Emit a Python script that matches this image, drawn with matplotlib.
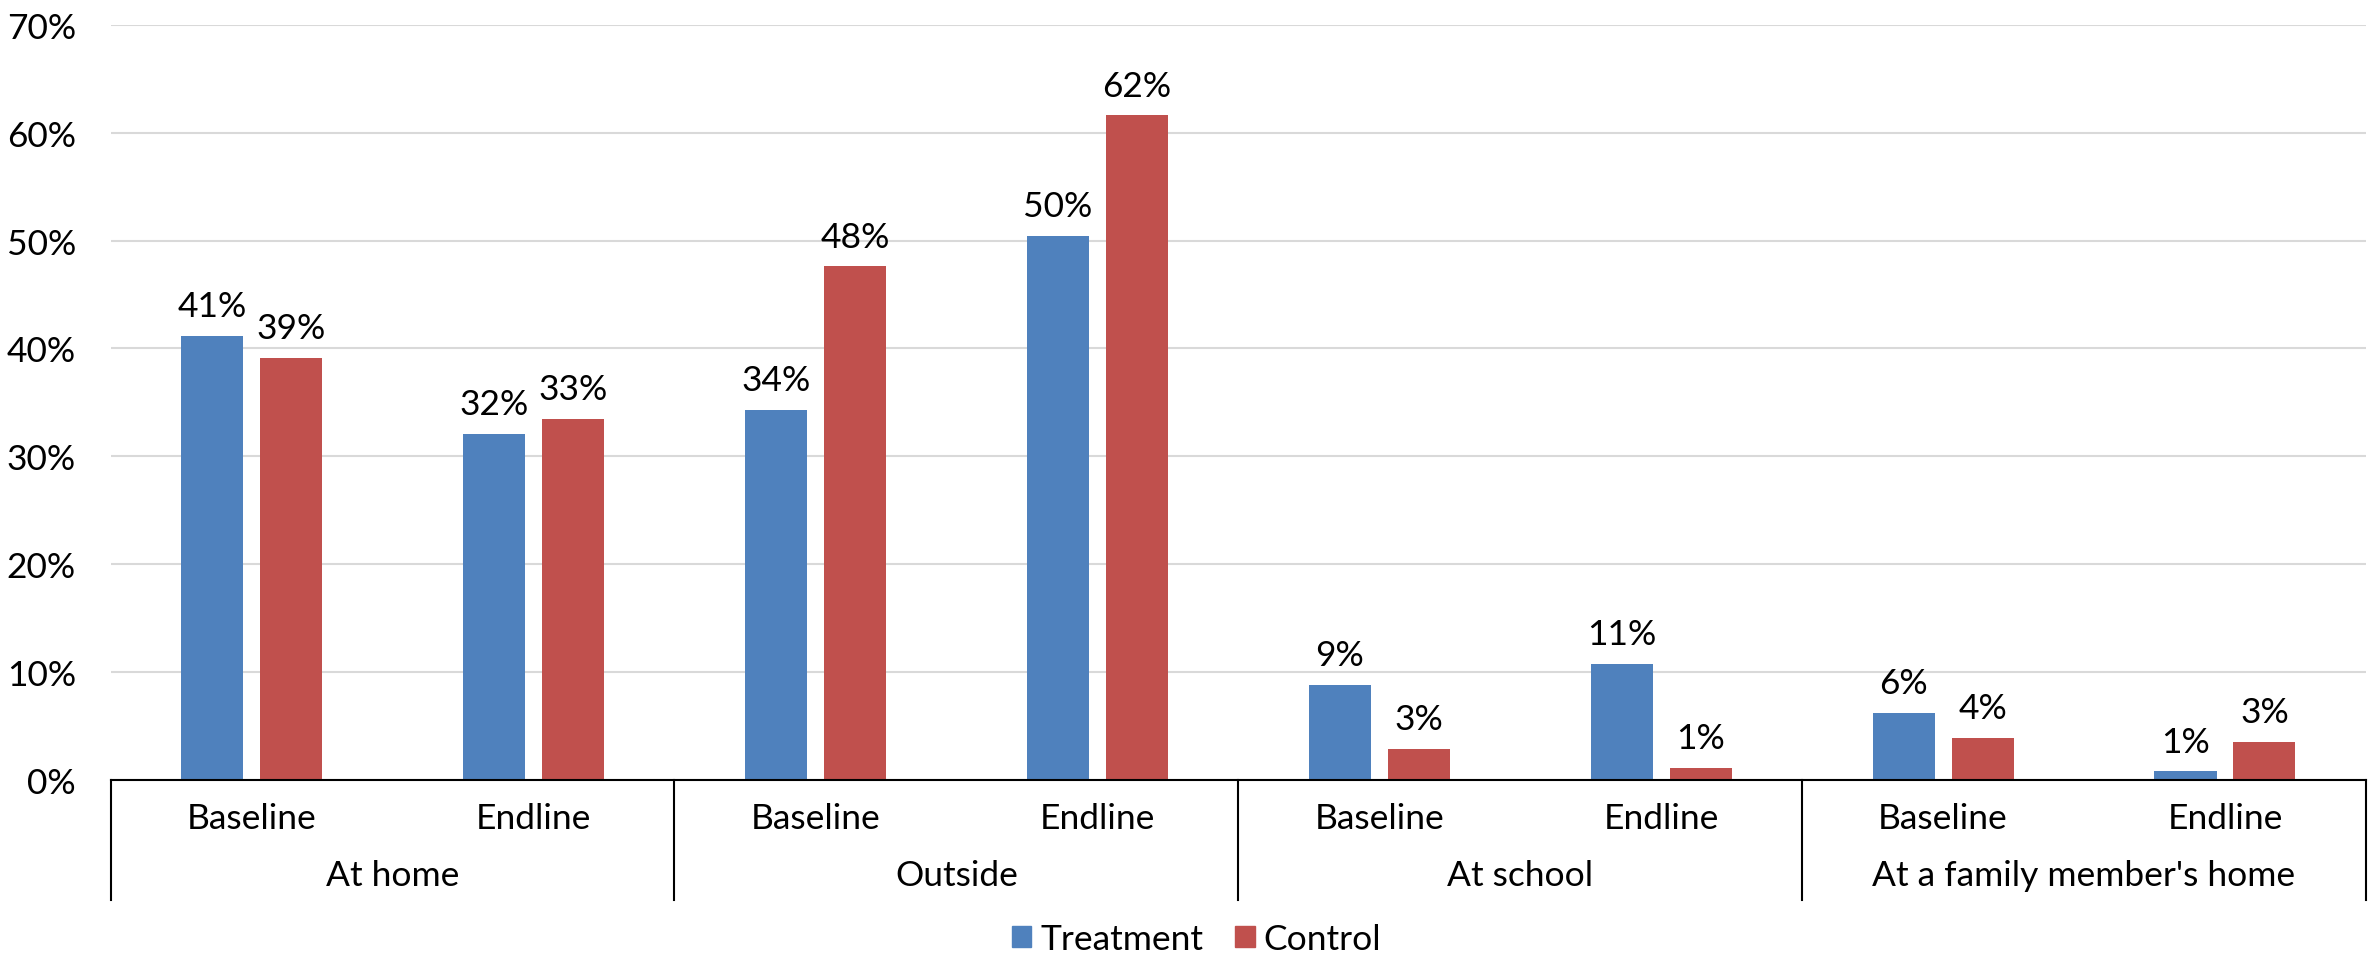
import matplotlib
matplotlib.use("Agg")
import matplotlib.pyplot as plt
from matplotlib.patches import Patch
import matplotlib.transforms as mtransforms
import numpy as np

plt.rcParams['font.family'] = ['Lato', 'DejaVu Sans']

groups = ["At home", "Outside", "At school", "At a family member's home"]
rounds = ["Baseline", "Endline"]
treatment = [41.2, 32.1, 34.3, 50.4, 8.8, 10.8, 6.2, 0.8]
control = [39.1, 33.5, 47.6, 61.6, 2.9, 1.1, 3.9, 3.5]
treatment_labels = ["41%", "32%", "34%", "50%", "9%", "11%", "6%", "1%"]
control_labels = ["39%", "33%", "48%", "62%", "3%", "1%", "4%", "3%"]
yticks = [0, 10, 20, 30, 40, 50, 60, 70]

BLUE = "#4F81BD"
RED = "#C0504D"
FS = 25.5

fig = plt.figure(figsize=(23.74, 9.54), dpi=100)
ax = fig.add_axes([0.0466, 0.1813, 0.95, 0.7917])

x = np.arange(len(treatment))
w = 0.22
off = 0.14
bt = ax.bar(x - off, treatment, w, color=BLUE, zorder=3)
bc = ax.bar(x + off, control, w, color=RED, zorder=3)

for rect, lab in zip(bt, treatment_labels):
    ax.annotate(lab, (rect.get_x() + rect.get_width() / 2, rect.get_height()),
                xytext=(0, 10), textcoords="offset points",
                ha="center", va="bottom", fontsize=FS)
for rect, lab in zip(bc, control_labels):
    ax.annotate(lab, (rect.get_x() + rect.get_width() / 2, rect.get_height()),
                xytext=(0, 10), textcoords="offset points",
                ha="center", va="bottom", fontsize=FS)

ax.set_xlim(-0.5, len(treatment) - 0.5)
ax.set_ylim(0, 70)
ax.set_yticks(yticks)
ax.set_yticklabels([f"{v}%" for v in yticks], fontsize=FS)
ax.tick_params(axis="y", length=0, pad=25)
ax.set_xticks([])
ax.yaxis.grid(True, color="#D9D9D9", linewidth=1.5, zorder=0)
for s in ["left", "right", "top"]:
    ax.spines[s].set_visible(False)
ax.spines["bottom"].set_color("black")
ax.spines["bottom"].set_linewidth(1.5)
ax.spines["bottom"].set_zorder(4)

# Two-level category axis drawn beneath the plot
trans = mtransforms.blended_transform_factory(ax.transData, fig.transFigure)
y_top = 1 - 781 / 954
y_bot = 1 - 901 / 954
y_sub = 1 - 819 / 954
y_grp = 1 - 876 / 954
for b in np.arange(-0.5, len(treatment), 2):
    ax.plot([b, b], [y_top, y_bot], transform=trans, color="black",
            linewidth=1.5, clip_on=False)
for i in x:
    ax.text(i, y_sub, rounds[i % 2], transform=trans, ha="center",
            va="center", fontsize=FS)
for g, name in enumerate(groups):
    ax.text(2 * g + 0.5, y_grp, name, transform=trans, ha="center",
            va="center", fontsize=FS)

handles = [Patch(color=BLUE, label="Treatment"), Patch(color=RED, label="Control")]
fig.legend(handles=handles, loc="center", bbox_to_anchor=(0.504, 1 - 940 / 954),
           ncol=2, frameon=False, fontsize=FS, handlelength=0.55,
           handleheight=0.55, handletextpad=0.25, columnspacing=0.9,
           borderaxespad=0, borderpad=0)

fig.savefig("out.png", dpi=100)
